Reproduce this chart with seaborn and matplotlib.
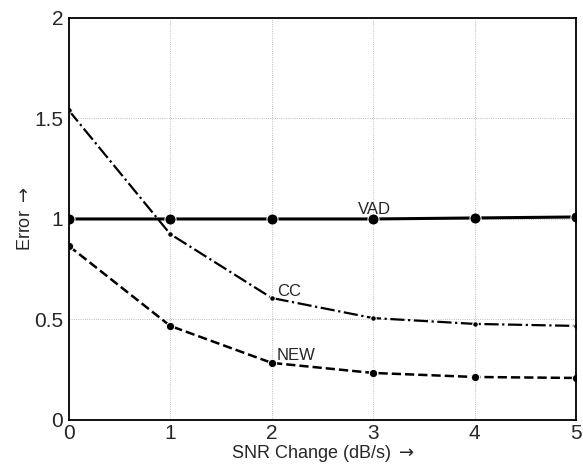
import numpy as np
import pandas as pd
import seaborn as sns
import matplotlib.pyplot as plt

sns.set_style('white')
plt.rcParams['font.family'] = ['Liberation Sans', 'DejaVu Sans']

snr = [0, 1, 2, 3, 4, 5]
vad = [1.0, 1.0, 1.0, 1.0, 1.005, 1.01]
cc = [1.54, 0.925, 0.607, 0.507, 0.478, 0.468]
new = [0.866, 0.468, 0.284, 0.234, 0.214, 0.209]

fig = plt.figure(figsize=(5.83, 4.68), dpi=100)
ax = fig.add_axes([0.118, 0.1026, 0.87, 0.859])

sns.lineplot(x=snr, y=vad, ax=ax, color='black', lw=2.2, marker='o', ms=8,
             linestyle='-')
sns.lineplot(x=snr, y=cc, ax=ax, color='black', lw=1.6, marker='o', ms=4,
             linestyle='-.')
sns.lineplot(x=snr, y=new, ax=ax, color='black', lw=1.8, marker='o', ms=6,
             linestyle='--')

ax.text(2.85, 1.025, 'VAD', fontsize=12)
ax.text(2.05, 0.615, 'CC', fontsize=12)
ax.text(2.05, 0.3, 'NEW', fontsize=12)

ax.set_xlim(0, 5)
ax.set_ylim(0, 2)
ax.set_xticks(snr)
ax.set_yticks([0, 0.5, 1, 1.5, 2])
ax.set_yticklabels(['0', '0.5', '1', '1.5', '2'])
ax.grid(True, linestyle=':', color='black', lw=0.6, alpha=0.35)
ax.tick_params(direction='in', length=4, labelsize=15, pad=2)
ax.tick_params(axis='x', pad=3)
ax.tick_params(axis='y', pad=4)
for s in ax.spines.values():
    s.set_color('black')
    s.set_linewidth(1.3)

ax.set_xlabel(r'SNR Change (dB/s) $\rightarrow$', fontsize=13, labelpad=0)
ax.set_ylabel(r'Error $\rightarrow$', fontsize=13, labelpad=0)

fig.savefig('out.png', dpi=100)
